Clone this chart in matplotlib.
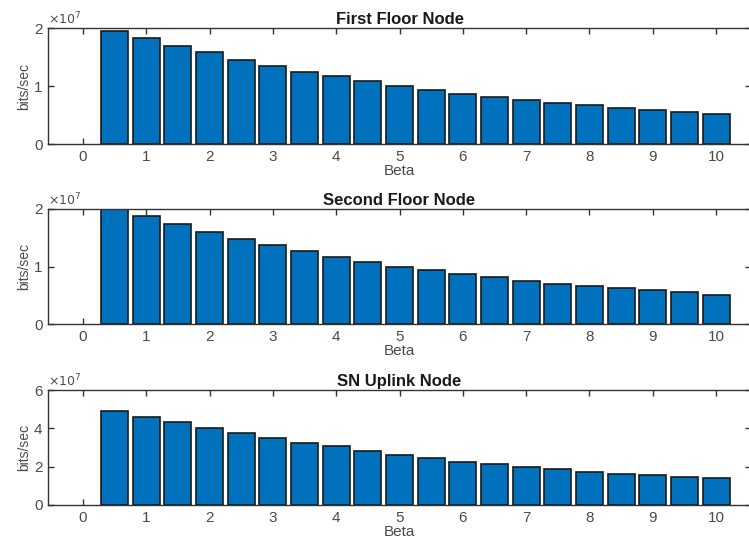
import numpy as np
import matplotlib
matplotlib.use("Agg")
import matplotlib.pyplot as plt

plt.rcParams['font.family'] = ['Liberation Sans', 'DejaVu Sans']

beta = [0.5, 1.0, 1.5, 2.0, 2.5, 3.0, 3.5, 4.0, 4.5, 5.0,
        5.5, 6.0, 6.5, 7.0, 7.5, 8.0, 8.5, 9.0, 9.5, 10.0]

first_floor = [1.953, 1.822, 1.684, 1.58, 1.454, 1.35, 1.247, 1.167, 1.08, 1.0,
               0.936, 0.867, 0.816, 0.759, 0.712, 0.667, 0.626, 0.586, 0.546, 0.517]
second_floor = [2.05, 1.873, 1.733, 1.6, 1.478, 1.373, 1.268, 1.163, 1.076, 0.995,
                0.936, 0.867, 0.814, 0.75, 0.704, 0.663, 0.622, 0.587, 0.558, 0.512]
sn_uplink = [4.92, 4.61, 4.31, 4.03, 3.76, 3.48, 3.25, 3.06, 2.80, 2.61,
             2.43, 2.26, 2.12, 1.98, 1.86, 1.72, 1.60, 1.55, 1.44, 1.39]

titles = ["First Floor Node", "Second Floor Node", "SN Uplink Node"]
series = [first_floor, second_floor, sn_uplink]
ylims = [2, 2, 6]
yticks_list = [[0, 1, 2], [0, 1, 2], [0, 2, 4, 6]]
xticks = list(range(0, 11))

W, H = 749, 546
fig = plt.figure(figsize=(W / 100, H / 100), dpi=100)

# axes boxes in pixel coords (left, top, right, bottom)
boxes = [(48, 28, 751, 144), (48, 209, 751, 324), (48, 390, 751, 505)]
txt = '#4a4a4a'
for (l, t, r, b), title, vals, ym, yt in zip(boxes, titles, series, ylims, yticks_list):
    ax = fig.add_axes([l / W, 1 - b / H, (r - l) / W, (b - t) / H])
    ax.bar(beta, vals, width=0.43, color='#0072BD', edgecolor='#1a1a1a', linewidth=1.2, zorder=2)
    ax.set_xlim(-0.55, 10.55)
    ax.set_ylim(0, ym)
    ax.set_xticks(xticks)
    ax.set_yticks(yt)
    ax.tick_params(direction='in', top=True, right=True, length=4, width=1.0,
                   labelsize=11, colors='#333333', labelcolor=txt, pad=4)
    for s in ax.spines.values():
        s.set_color('#333333')
        s.set_linewidth(1.0)
    ax.set_title(title, fontsize=12, fontweight='bold', color='#1a1a1a', pad=3)
    ax.set_xlabel('Beta', fontsize=11, color=txt, labelpad=0)
    ax.set_ylabel('bits/sec', fontsize=10, color=txt, labelpad=2)
    ax.text(0.0, 1.01, r'$\times10^{7}$', transform=ax.transAxes, fontsize=9,
            color=txt, ha='left', va='bottom')

fig.savefig('out.png', dpi=100)
